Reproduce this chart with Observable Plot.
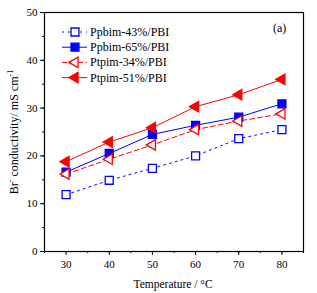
<!DOCTYPE html>
<html><head><meta charset="utf-8">
<script src="https://cdn.jsdelivr.net/npm/d3@7"></script>
<script src="https://cdn.jsdelivr.net/npm/@observablehq/plot@0.6"></script>
<style>body{margin:0;background:#fff}#chart{width:317px;height:293px}</style>
</head><body><div id="chart"></div>
<script>
const temperatures = [30, 40, 50, 60, 70, 80];
const ppbim43 = [11.9, 14.9, 17.4, 20.0, 23.6, 25.5];
const ppbim65 = [16.6, 20.5, 24.5, 26.4, 28.1, 30.9];
const ptpim34 = [16.2, 19.3, 22.3, 25.5, 27.3, 28.8];
const ptpim51 = [18.8, 22.9, 25.9, 30.3, 32.8, 36.0];
const seriesNames = ["Ppbim-43%/PBI", "Ppbim-65%/PBI", "Ptpim-34%/PBI", "Ptpim-51%/PBI"];
const seriesValues = [ppbim43, ppbim65, ptpim34, ptpim51];
const seriesColors = ["#0000ff", "#0000ff", "#ff0000", "#ff0000"];
const seriesDash = ["2,4", null, "5,3", null];
const seriesFilled = [false, true, false, true];
const seriesSymbol = ["square", "square", "triangle", "triangle"];
const xTicks = [30, 40, 50, 60, 70, 80];
const yTicks = [0, 10, 20, 30, 40, 50];

const font = "'Liberation Serif','Times New Roman',serif";
const data = seriesNames.flatMap((s, i) => temperatures.map((t, j) => ({series: s, i, t, v: seriesValues[i][j]})));
const symR = sym => sym === "square" ? 4.5 : 3.9;

const marks = [];
seriesNames.forEach((s, i) => {
  marks.push(Plot.line(data.filter(d => d.i === i), {x: "t", y: "v", stroke: seriesColors[i], strokeWidth: 1, strokeDasharray: seriesDash[i]}));
});
seriesNames.forEach((s, i) => {
  marks.push(Plot.dot(data.filter(d => d.i === i), {
    x: "t", y: "v", symbol: seriesSymbol[i], r: symR(seriesSymbol[i]),
    rotate: seriesSymbol[i] === "triangle" ? -90 : 0,
    stroke: seriesColors[i], strokeWidth: 1.3,
    fill: seriesFilled[i] ? seriesColors[i] : "white"
  }));
});

const plot = Plot.plot({
  width: 317, height: 293,
  marginLeft: 44, marginRight: 14, marginTop: 12, marginBottom: 42,
  style: {fontFamily: font, fontSize: "11px", color: "black", background: "white"},
  x: {domain: [25, 85]},
  y: {domain: [0, 50]},
  marks: [
    Plot.axisX({ticks: d3.range(25, 86, 5), tickSize: 2, text: null, label: null}),
    Plot.axisX({ticks: xTicks, tickSize: 4, tickPadding: 5, label: null, fontFamily: font}),
    Plot.axisY({ticks: d3.range(0, 51, 5), tickSize: 2, text: null, label: null}),
    Plot.axisY({ticks: yTicks, tickSize: 4, tickPadding: 3, label: null, fontFamily: font}),
    ...marks,
    Plot.frame({stroke: "black", strokeWidth: 1.2})
  ]
});

const svg = d3.select(plot);
// axis titles
svg.append("text").attr("x", 173).attr("y", 288).attr("text-anchor", "middle")
  .style("font-family", font).style("font-size", "11.5px").text("Temperature / °C");
const yl = svg.append("text").attr("transform", "translate(18,132) rotate(-90)").attr("text-anchor", "middle")
  .style("font-family", font).style("font-size", "12px");
yl.append("tspan").text("Br");
yl.append("tspan").attr("dy", -5).style("font-size", "8px").text("-");
yl.append("tspan").attr("dy", 5).text(" conductivity/ mS cm");
yl.append("tspan").attr("dy", -5).style("font-size", "8px").text("-1");

// panel label
svg.append("text").attr("x", 273).attr("y", 32).attr("text-anchor", "start")
  .style("font-family", font).style("font-size", "12px").text("(a)");

// legend
const lg = svg.append("g").attr("text-anchor", "start");
seriesNames.forEach((s, i) => {
  const y = 32 + i * 15.2;
  lg.append("line").attr("x1", 62).attr("x2", 87).attr("y1", y).attr("y2", y)
    .attr("stroke", seriesColors[i]).attr("stroke-dasharray", seriesDash[i]);
  const r = symR(seriesSymbol[i]);
  lg.append("path")
    .attr("d", d3.symbol(seriesSymbol[i] === "square" ? d3.symbolSquare : d3.symbolTriangle, r * r * Math.PI)())
    .attr("transform", `translate(75,${y}) rotate(${seriesSymbol[i] === "triangle" ? -90 : 0})`)
    .attr("stroke", seriesColors[i]).attr("stroke-width", 1.3)
    .attr("fill", seriesFilled[i] ? seriesColors[i] : "white");
  lg.append("text").attr("x", 90).attr("y", y + 4).attr("text-anchor", "start")
    .style("font-family", font).style("font-size", "12px").text(s);
});

document.getElementById("chart").appendChild(plot);
</script></body></html>
